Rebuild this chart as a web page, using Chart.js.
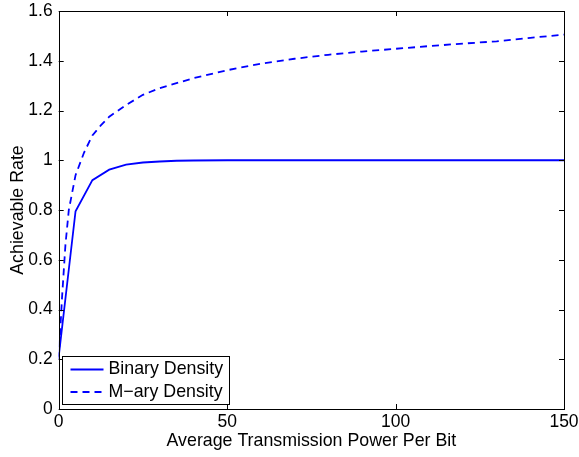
<!DOCTYPE html>
<html>
<head>
<meta charset="utf-8">
<script src="https://cdn.jsdelivr.net/npm/chart.js@4/dist/chart.umd.min.js"></script>
<style>
  html, body { margin: 0; padding: 0; background: #fff; }
  #wrap { width: 579px; height: 457px; }
</style>
</head>
<body>
<div id="wrap"><canvas id="rateChart" width="579" height="457"></canvas></div>
<script>
// values
var powerBinary = [0, 5, 10, 15, 20, 25, 30, 35, 40, 50, 100, 150];
var rateBinary = [0.21, 0.795, 0.92, 0.962, 0.982, 0.991, 0.995, 0.998, 0.999, 1, 1, 1];

var powerMary = [0, 1, 2, 3, 5, 7.5, 10, 12.5, 15, 20, 25, 30, 40, 50, 60, 70, 80, 90, 100, 110, 120, 130, 140, 150];
var rateMary = [0.2, 0.45, 0.66, 0.8, 0.94, 1.03, 1.1, 1.14, 1.175, 1.222, 1.263, 1.29, 1.33, 1.362, 1.388, 1.408, 1.424, 1.437, 1.448, 1.459, 1.469, 1.478, 1.492, 1.505];

var seriesNames = ['Binary Density', 'M\u2212ary Density'];
var xTicks = [0, 50, 100, 150];
var yTicks = [0, 0.2, 0.4, 0.6, 0.8, 1, 1.2, 1.4, 1.6];

function toPoints(xs, ys) {
  var pts = [];
  for (var i = 0; i < xs.length; i++) pts.push({x: xs[i], y: ys[i]});
  return pts;
}

var FONT = 'Liberation Sans, Arial, Helvetica, sans-serif';
var TICK_SIZE = 17.5;
var LABEL_SIZE = 17.8;

// box around the axes + inward ticks, like matlab
var boxPlugin = {
  id: 'box',
  afterDraw: function(chart) {
    var ctx = chart.ctx;
    var a = chart.chartArea;
    var xs = chart.scales.x, ys = chart.scales.y;
    var tl = 5;
    ctx.save();
    ctx.strokeStyle = '#000';
    ctx.lineWidth = 1;
    ctx.beginPath();
    xTicks.forEach(function(v) {
      var px = Math.round(xs.getPixelForValue(v)) + 0.5;
      ctx.moveTo(px, a.bottom); ctx.lineTo(px, a.bottom - tl);
      ctx.moveTo(px, a.top); ctx.lineTo(px, a.top + tl);
    });
    yTicks.forEach(function(v) {
      var py = Math.round(ys.getPixelForValue(v)) + 0.5;
      ctx.moveTo(a.left, py); ctx.lineTo(a.left + tl, py);
      ctx.moveTo(a.right, py); ctx.lineTo(a.right - tl, py);
    });
    ctx.stroke();
    ctx.strokeRect(Math.round(a.left) + 0.5, Math.round(a.top) + 0.5,
                   Math.round(a.right - a.left), Math.round(a.bottom - a.top));

    // legend box, lower left inside the axes
    var lx = 62.5, ly = 356.5, lw = 167, lh = 48;
    ctx.fillStyle = '#fff';
    ctx.fillRect(lx, ly, lw, lh);
    ctx.strokeRect(lx, ly, lw, lh);
    ctx.font = LABEL_SIZE + 'px ' + FONT;
    ctx.textBaseline = 'middle';
    ctx.textAlign = 'left';
    chart.data.datasets.forEach(function(ds, i) {
      var cy = ly + 13 + i * 22.5;
      ctx.save();
      ctx.strokeStyle = ds.borderColor;
      ctx.lineWidth = ds.borderWidth;
      ctx.setLineDash(ds.borderDash || []);
      ctx.beginPath();
      ctx.moveTo(lx + 8, cy);
      ctx.lineTo(lx + 41, cy);
      ctx.stroke();
      ctx.restore();
      ctx.fillStyle = '#000';
      ctx.fillText(ds.label, lx + 46, cy);
    });
    ctx.restore();
  }
};

var chart = new Chart(document.getElementById('rateChart'), {
  type: 'scatter',
  data: {
    datasets: [
      {
        label: seriesNames[0],
        data: toPoints(powerBinary, rateBinary),
        showLine: true,
        borderColor: '#0000ff',
        borderWidth: 1.8,
        pointRadius: 0,
        tension: 0
      },
      {
        label: seriesNames[1],
        data: toPoints(powerMary, rateMary),
        showLine: true,
        borderColor: '#0000ff',
        borderWidth: 1.8,
        borderDash: [7, 5],
        pointRadius: 0,
        tension: 0
      }
    ]
  },
  options: {
    responsive: false,
    animation: false,
    layout: { padding: { top: 11, right: 15, left: 0, bottom: 0 } },
    plugins: { legend: { display: false }, tooltip: { enabled: false } },
    scales: {
      x: {
        type: 'linear',
        min: 0, max: 150,
        afterBuildTicks: function(s) { s.ticks = xTicks.map(function(v) { return {value: v}; }); },
        afterFit: function(s) { s.height = 48; s.paddingLeft = 0; s.paddingRight = 0; },
        grid: { display: false, drawTicks: false },
        border: { display: false },
        ticks: { color: '#000', padding: 3, maxRotation: 0, font: { family: FONT, size: TICK_SIZE } },
        title: {
          display: true,
          text: 'Average Transmission Power Per Bit',
          color: '#000',
          font: { family: FONT, size: LABEL_SIZE },
          padding: { top: 0, bottom: 5 }
        }
      },
      y: {
        type: 'linear',
        min: 0, max: 1.6,
        afterBuildTicks: function(s) { s.ticks = yTicks.map(function(v) { return {value: v}; }); },
        afterFit: function(s) { s.width = 58.7; s.paddingTop = 0; s.paddingBottom = 0; },
        grid: { display: false, drawTicks: false },
        border: { display: false },
        ticks: {
          color: '#000', padding: 6, font: { family: FONT, size: TICK_SIZE },
          callback: function(v) { return String(+v.toFixed(1)); }
        },
        title: {
          display: true,
          text: 'Achievable Rate',
          color: '#000',
          font: { family: FONT, size: LABEL_SIZE },
          padding: { top: 7, bottom: 0 }
        }
      }
    }
  },
  plugins: [boxPlugin]
});
</script>
</body>
</html>
